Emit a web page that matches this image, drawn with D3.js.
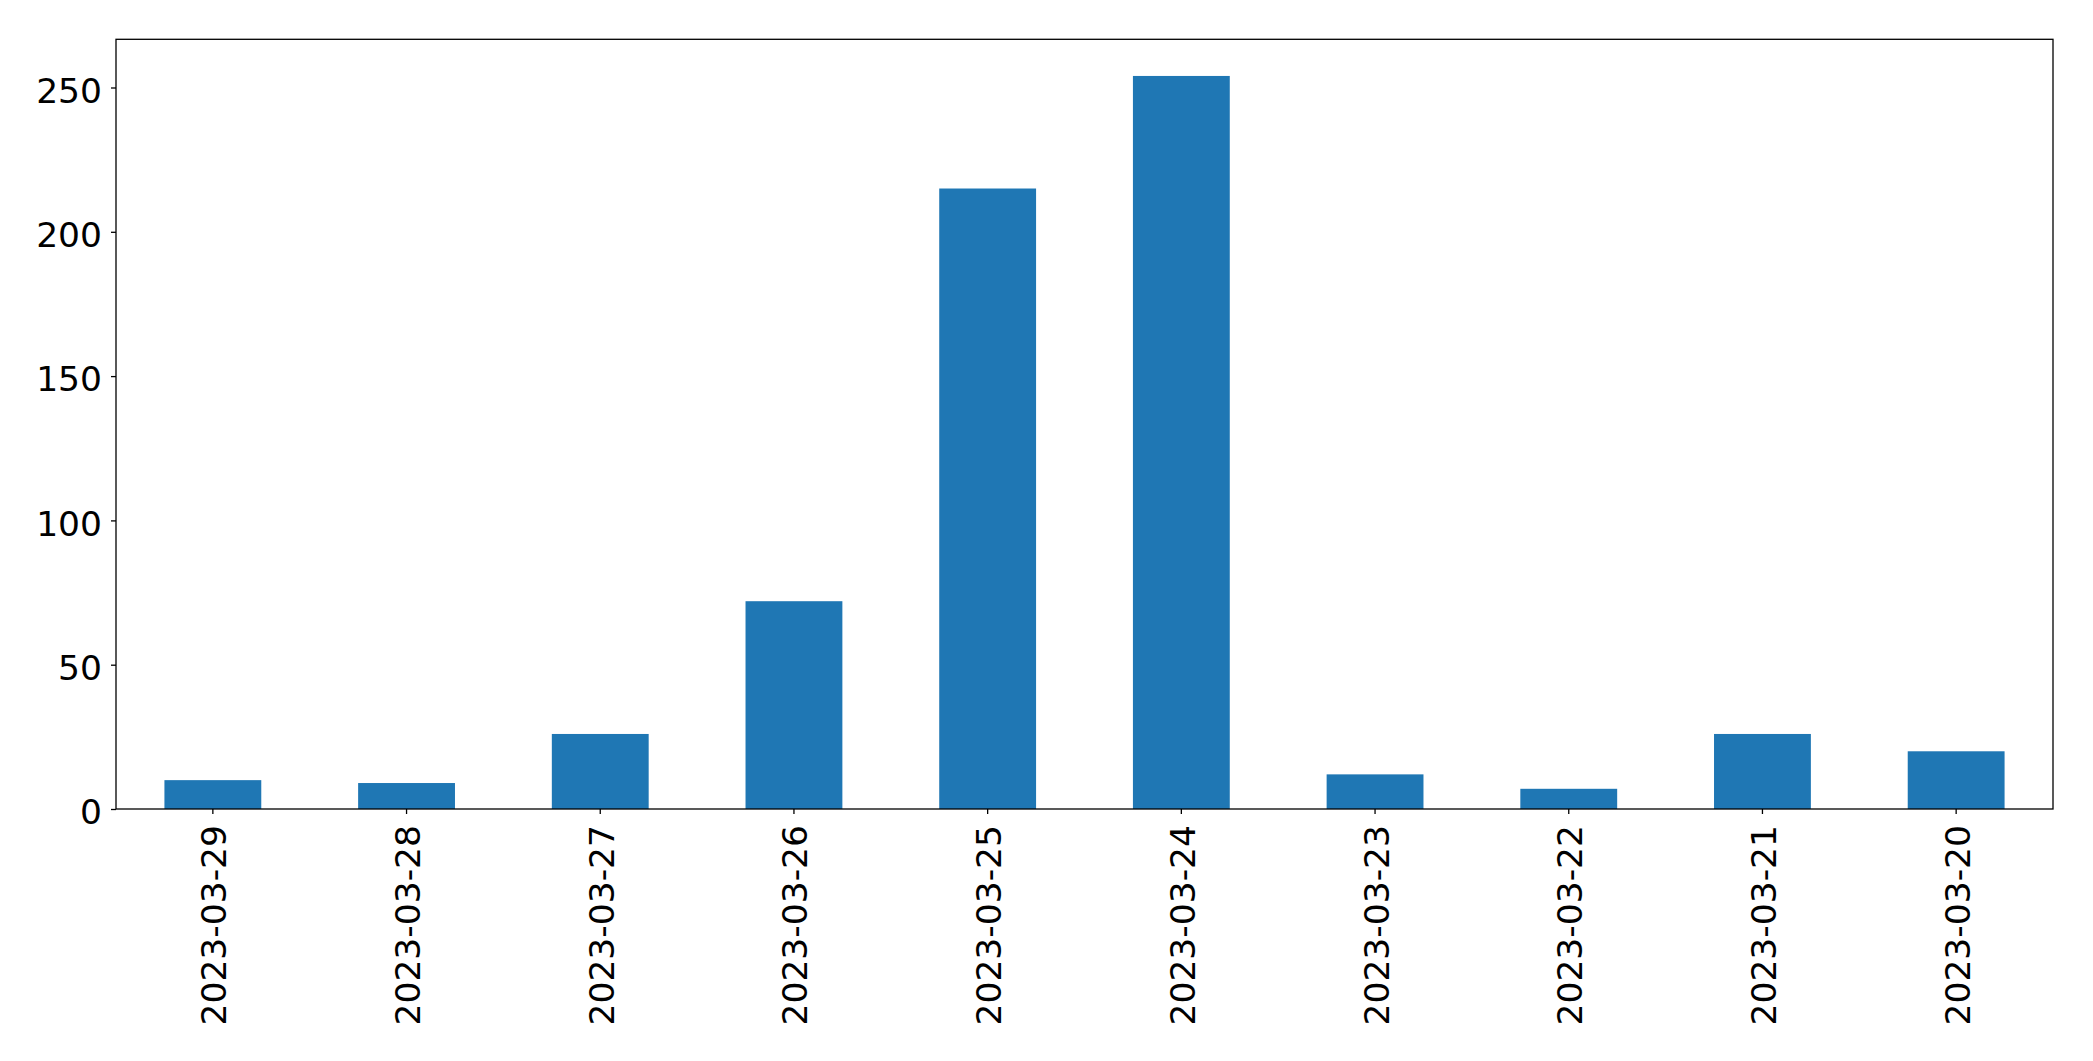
<!DOCTYPE html>
<html>
<head>
<meta charset="utf-8">
<script src="https://cdn.jsdelivr.net/npm/d3@7"></script>
<style>
  html, body { margin: 0; padding: 0; background: #fff; }
  svg { display: block; }
  text { font-family: "DejaVu Sans", sans-serif; fill: #000; }
</style>
</head>
<body>
<svg id="chart" width="2093" height="1061"></svg>
<script>
const categories = ["2023-03-29","2023-03-28","2023-03-27","2023-03-26","2023-03-25","2023-03-24","2023-03-23","2023-03-22","2023-03-21","2023-03-20"];
const values = [10, 9, 26, 72, 215, 254, 12, 7, 26, 20];
const yTicks = [0, 50, 100, 150, 200, 250];

const W = 2093, H = 1061;
const m = { left: 116, right: 2053, top: 39.3, bottom: 809 };
const FS = 34.5;
const svg = d3.select("#chart");

const x = d3.scaleBand().domain(categories).range([m.left, m.right]).paddingInner(0.5).paddingOuter(0.25);
const y = d3.scaleLinear().domain([0, d3.max(values) * 1.05]).range([m.bottom, m.top]);

svg.append("g").selectAll("rect").data(values).join("rect")
  .attr("x", (d, i) => x(categories[i]))
  .attr("width", x.bandwidth())
  .attr("y", d => y(d))
  .attr("height", d => y(0) - y(d))
  .attr("fill", "#1f77b4");

// frame
svg.append("rect")
  .attr("x", m.left).attr("y", m.top)
  .attr("width", m.right - m.left).attr("height", m.bottom - m.top)
  .attr("fill", "none").attr("stroke", "#000").attr("stroke-width", 1.3);

// y axis
const ya = svg.append("g").attr("transform", `translate(${m.left},0)`)
  .call(d3.axisLeft(y).tickValues(yTicks).tickSize(5).tickPadding(9).tickFormat(d3.format("d")));
ya.select(".domain").remove();
ya.selectAll("line").attr("stroke", "#000").attr("stroke-width", 1.3);
ya.selectAll("text").attr("font-size", FS).attr("font-family", "DejaVu Sans").attr("dy", "0.43em").attr("fill", "#000");

// x axis
const xa = svg.append("g").attr("transform", `translate(0,${m.bottom})`)
  .call(d3.axisBottom(x).tickSize(5).tickPadding(0));
xa.select(".domain").remove();
xa.selectAll("line").attr("stroke", "#000").attr("stroke-width", 1.3);
xa.selectAll("text")
  .attr("font-size", FS).attr("font-family", "DejaVu Sans").attr("fill", "#000")
  .attr("text-anchor", "end")
  .attr("transform", "translate(0,16) rotate(-90)")
  .attr("x", 0).attr("y", 0).attr("dy", "0.39em");
</script>
</body>
</html>
